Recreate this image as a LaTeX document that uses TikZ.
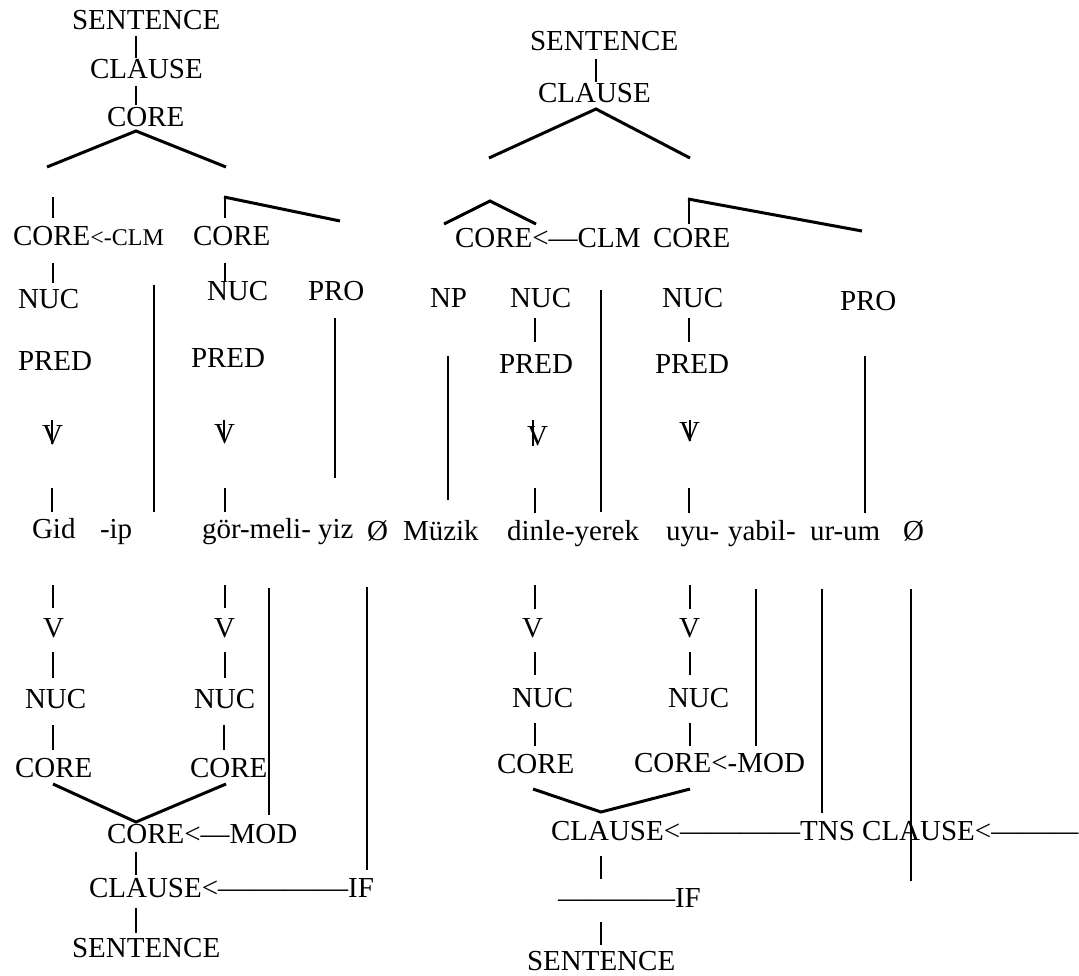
\documentclass[tikz,border=0pt]{standalone}
\usepackage{fontspec}
\setmainfont{Liberation Serif}
\usepackage{graphicx}
% a run of em dashes stretched to a given width (in pt)
\newcommand\dashrun[2]{\resizebox{#1pt}{\height}{#2}}
\begin{document}
\begin{tikzpicture}[x=1pt,y=-1pt,
  lbl/.style={anchor=base west, inner sep=0pt, outer sep=0pt,
              font=\fontsize{29}{35}\selectfont},
  stem/.style={line width=2pt},
  branch/.style={line width=3pt, line join=miter}]
\useasboundingbox (0,0) rectangle (1079,975);

% ---------- left tree: upper (constituent) projection ----------
\node[lbl] (ls1)   at (72,29)   {SENTENCE};
\node[lbl] (lcl1)  at (90,78)   {CLAUSE};
\node[lbl] (lco1)  at (107,126) {CORE};
\node[lbl] (lco2)  at (13,245)  {CORE{\fontsize{24}{29}\selectfont<-CLM}};
\node[lbl] (lco3)  at (193,245) {CORE};
\node[lbl] (lnu1)  at (18,308)  {NUC};
\node[lbl] (lnu2)  at (207,300) {NUC};
\node[lbl] (lpro)  at (308,300) {PRO};
\node[lbl] (lpr1)  at (18,370)  {PRED};
\node[lbl] (lpr2)  at (191,367) {PRED};
\node[lbl] (lv1)   at (42,444)  {V};
\node[lbl] (lv2)   at (214,443) {V};

% ---------- words ----------
\node[lbl] (wgid)  at (32,538)  {Gid};
\node[lbl] (wip)   at (100,538) {-ip};
\node[lbl] (wgor)  at (202,538) {gör-meli- yiz};
\node[lbl] (wz1)   at (367,540) {Ø};
\node[lbl] (wmuz)  at (403,540) {Müzik};
\node[lbl] (wdin)  at (507,540) {dinle-yerek};
\node[lbl] (wuyu)  at (666,540) {uyu-};
\node[lbl] (wyab)  at (728,540) {yabil-};
\node[lbl] (wur)   at (810,540) {ur-um};
\node[lbl] (wz2)   at (903,540) {Ø};

% ---------- left tree: lower (operator) projection ----------
\node[lbl] (lv3)   at (43,637)  {V};
\node[lbl] (lv4)   at (214,637) {V};
\node[lbl] (lnu3)  at (25,708)  {NUC};
\node[lbl] (lnu4)  at (194,708) {NUC};
\node[lbl] (lco4)  at (15,777)  {CORE};
\node[lbl] (lco5)  at (190,777) {CORE};
\node[lbl] (lco6)  at (107,843) {CORE<—MOD};
\node[lbl] (lcl2)  at (89,897)  {CLAUSE<\dashrun{130}{————}IF};
\node[lbl] (ls2)   at (72,957)  {SENTENCE};

% ---------- right tree: upper projection ----------
\node[lbl] (rs1)   at (530,50)  {SENTENCE};
\node[lbl] (rcl1)  at (538,102) {CLAUSE};
\node[lbl] (rco1)  at (455,247) {CORE<—CLM};
\node[lbl] (rco2)  at (653,247) {CORE};
\node[lbl] (rnp)   at (430,307) {NP};
\node[lbl] (rnu1)  at (510,307) {NUC};
\node[lbl] (rnu2)  at (662,307) {NUC};
\node[lbl] (rpro)  at (840,310) {PRO};
\node[lbl] (rpr1)  at (499,373) {PRED};
\node[lbl] (rpr2)  at (655,373) {PRED};
\node[lbl] (rv1)   at (527,445) {V};
\node[lbl] (rv2)   at (679,441) {V};

% ---------- right tree: lower projection ----------
\node[lbl] (rv3)   at (522,637) {V};
\node[lbl] (rv4)   at (679,637) {V};
\node[lbl] (rnu3)  at (512,707) {NUC};
\node[lbl] (rnu4)  at (668,707) {NUC};
\node[lbl] (rco3)  at (497,773) {CORE};
\node[lbl] (rco4)  at (634,772) {CORE<-MOD};
\node[lbl] (rcl2)  at (551,840) {CLAUSE<\dashrun{120}{————}TNS CLAUSE<\dashrun{87}{———}};
\node[lbl] (rif)   at (558,907) {\dashrun{117}{————}IF};
\node[lbl] (rs2)   at (527,970) {SENTENCE};

% ---------- left tree lines ----------
\draw[stem] (136,36) -- (136,58);
\draw[stem] (136,86) -- (136,105);
\draw[branch] (47,167) -- (136,131) -- (226,167);
\draw[stem] (53,197) -- (53,218);
\draw[stem] (225,218) -- (225,197);
\draw[branch] (224,197) -- (340,221);
\draw[stem] (53,263) -- (53,283);
\draw[stem] (225,263) -- (225,282);
\draw[stem] (154,285) -- (154,512);
\draw[stem] (335,318) -- (335,478);
\draw[stem] (52,420) -- (52,444);
\draw[stem] (224,420) -- (224,440);
\draw[stem] (52,488) -- (52,512);
\draw[stem] (225,488) -- (225,512);
\draw[stem] (53,585) -- (53,608);
\draw[stem] (225,585) -- (225,608);
\draw[stem] (269,588) -- (269,815);
\draw[stem] (367,587) -- (367,870);
\draw[stem] (53,652) -- (53,678);
\draw[stem] (225,652) -- (225,678);
\draw[stem] (53,725) -- (53,750);
\draw[stem] (224,725) -- (224,750);
\draw[branch] (53,784) -- (136,822) -- (226,784);
\draw[stem] (136,852) -- (136,875);
\draw[stem] (136,908) -- (136,933);

% ---------- right tree lines ----------
\draw[stem] (596,59) -- (596,82);
\draw[branch] (489,158) -- (596,109) -- (690,158);
\draw[branch] (444,224) -- (490,201) -- (536,224);
\draw[stem] (689,224) -- (689,199);
\draw[branch] (688,199) -- (862,231);
\draw[stem] (601,290) -- (601,512);
\draw[stem] (535,318) -- (535,342);
\draw[stem] (689,318) -- (689,342);
\draw[stem] (448,356) -- (448,500);
\draw[stem] (865,356) -- (865,513);
\draw[stem] (533,420) -- (533,446);
\draw[stem] (690,420) -- (690,441);
\draw[stem] (535,488) -- (535,513);
\draw[stem] (689,488) -- (689,513);
\draw[stem] (535,585) -- (535,609);
\draw[stem] (690,585) -- (690,609);
\draw[stem] (756,589) -- (756,746);
\draw[stem] (822,589) -- (822,813);
\draw[stem] (911,589) -- (911,881);
\draw[stem] (535,652) -- (535,675);
\draw[stem] (690,652) -- (690,675);
\draw[stem] (535,723) -- (535,746);
\draw[stem] (690,723) -- (690,746);
\draw[branch] (533,789) -- (601,812) -- (690,789);
\draw[stem] (601,856) -- (601,879);
\draw[stem] (601,922) -- (601,945);
\end{tikzpicture}
\end{document}
